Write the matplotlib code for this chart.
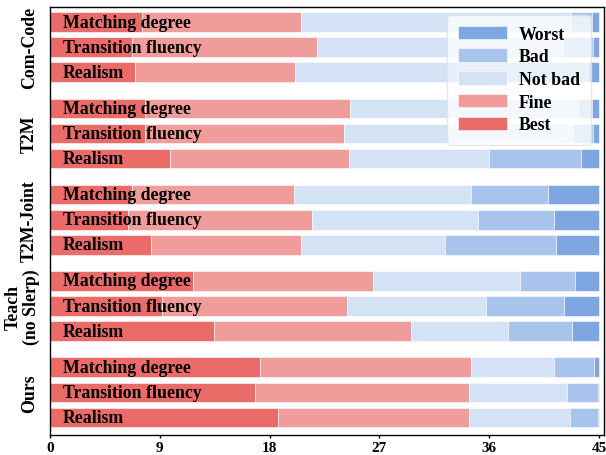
import matplotlib
matplotlib.use("Agg")
import matplotlib.pyplot as plt
import numpy as np

plt.rcParams['font.family'] = ['Liberation Serif', 'DejaVu Serif']
plt.rcParams['font.weight'] = 'bold'

groups = ["Com-Code", "T2M", "T2M-Joint", "Teach\n(no Slerp)", "Ours"]
metrics = ["Matching degree", "Transition fluency", "Realism"]
levels = ["Best", "Fine", "Not bad", "Bad", "Worst"]
colors = ["#EB6B68", "#F09C9A", "#D4E2F5", "#A8C4EC", "#7EA6E1"]

# segment widths per bar: Best, Fine, Not bad, Bad, Worst (rows: groups x metrics)
best = [7.5, 6.7, 7.0, 7.8, 7.8, 9.8, 6.7, 6.4, 8.3, 11.7, 9.2, 13.4, 17.2, 16.8, 18.7]
fine = [13.1, 15.2, 13.1, 16.8, 16.3, 14.7, 13.3, 15.1, 12.3, 14.8, 15.1, 16.2, 17.3, 17.5, 15.6]
notbad = [22.1, 20.1, 12.4, 18.7, 18.8, 11.5, 14.5, 13.6, 11.8, 12.0, 11.4, 7.9, 6.8, 8.1, 8.3]
bad = [1.7, 2.5, 11.5, 1.1, 1.6, 7.5, 6.3, 6.2, 9.1, 4.5, 6.4, 5.3, 3.3, 2.5, 2.3]
worst = [0.6, 0.5, 1.0, 0.6, 0.5, 1.5, 4.2, 3.7, 3.5, 2.0, 2.9, 2.2, 0.4, 0.1, 0.1]
xticks = [0, 9, 18, 27, 36, 45]

series = [best, fine, notbad, bad, worst]

fig = plt.figure(figsize=(6.06, 4.56), dpi=100)
ax = fig.add_axes([50/606, 1-436/456, 554/606, 428/456])

group_pitch = 3.44
ypos = []
labels = []
for gi in range(len(groups)):
    for mi in range(len(metrics)):
        ypos.append(gi*group_pitch + mi)
        labels.append(metrics[mi])
ypos = np.array(ypos)

left = np.zeros(len(ypos))
handles = {}
for lvl, vals, c in zip(levels, series, colors):
    vals = np.array(vals)
    b = ax.barh(ypos, vals, left=left, height=0.78, color=c, edgecolor='white',
                linewidth=0.4, label=lvl)
    handles[lvl] = b
    left = left + vals

for y, lab in zip(ypos, labels):
    ax.text(1.05, y, lab, va='center', ha='left', fontsize=12.8, fontweight='bold', color='black')

trans = matplotlib.transforms.blended_transform_factory(ax.transAxes, ax.transData)
for gi, g in enumerate(groups):
    yc = gi*group_pitch + 1
    xg = -0.05 if "\n" in g else -0.037
    ax.text(xg, yc, g, rotation=90, ha='center', va='center', fontsize=12.8,
            fontweight='bold', transform=trans, linespacing=1.05, multialignment='center')

ax.set_xlim(0, 45.4)
ax.set_ylim(ypos[-1] + 0.7, -0.6)
ax.set_xticks(xticks)
ax.set_xticklabels([str(t) for t in xticks], fontsize=11, fontweight='bold')
ax.set_yticks([])
ax.tick_params(axis='x', length=2.5, width=1, pad=1.5)
for s in ax.spines.values():
    s.set_linewidth(1.0)
    s.set_color('black')

order = ["Worst", "Bad", "Not bad", "Fine", "Best"]
leg = ax.legend([handles[k] for k in order], order, loc='upper right',
                bbox_to_anchor=(0.9765, 0.982), borderaxespad=0,
                prop={'size': 12.8, 'weight': 'bold'}, handlelength=2.8,
                handleheight=0.8, handletextpad=0.65, labelspacing=0.32,
                borderpad=0.62, framealpha=0.75, fancybox=True, edgecolor='0.88')

fig.savefig("out.png", dpi=100)
